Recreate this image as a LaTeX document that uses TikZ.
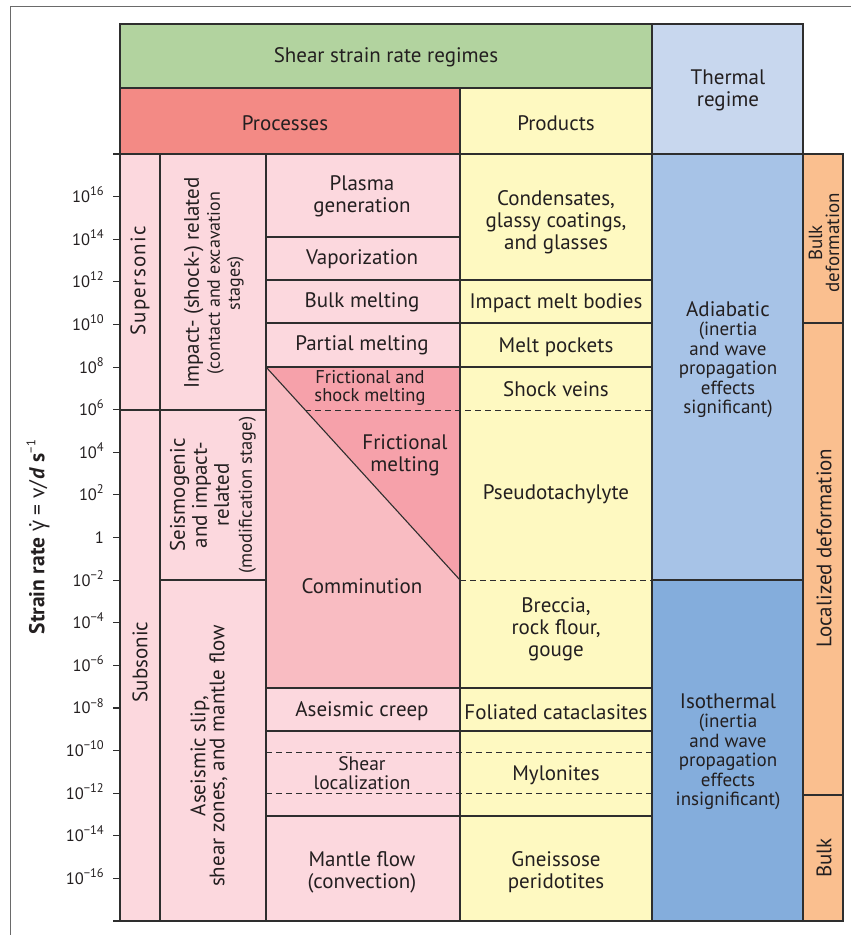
\documentclass[tikz,border=0pt]{standalone}
\usepackage{fontspec}
\setmainfont{PT Sans}
\newfontfamily\greekfont{Open Sans}
\definecolor{ink}{HTML}{231F20}
\definecolor{gridc}{HTML}{2E2E2E}
\definecolor{framec}{HTML}{6A6A6A}
\definecolor{hgreen}{HTML}{B2D39F}
\definecolor{hred}{HTML}{F38A85}
\definecolor{pyellow}{HTML}{FEF9C1}
\definecolor{thead}{HTML}{C8D7EE}
\definecolor{pinkL}{HTML}{FCD8DE}
\definecolor{pinkM}{HTML}{F9BCC2}
\definecolor{pinkD}{HTML}{F6A1AA}
\definecolor{blueA}{HTML}{A7C3E7}
\definecolor{blueI}{HTML}{84ADDC}
\definecolor{orangeR}{HTML}{FABF8F}
\newcommand\sups[1]{\raisebox{0.42em}{\fontsize{12.5}{12.5}\selectfont #1}}
\newcommand\gdot{\setbox0=\hbox{\greekfont γ}\hbox to \wd0{\copy0\hskip-\wd0\hss\raisebox{0.6em}{\kern0.15em .}\hss}}
\begin{document}
\begin{tikzpicture}[x=1pt,y=-1pt,
  gridline/.style={draw=gridc, line width=1.1pt},
  dashline/.style={draw=gridc, line width=1pt, dash pattern=on 6pt off 4pt},
  txt/.style={text=ink, align=center, inner sep=0pt, font=\fontsize{21}{22}\selectfont},
  smtxt/.style={text=ink, align=center, inner sep=0pt, font=\fontsize{19}{19.5}\selectfont},
  ticklab/.style={text=ink, inner sep=0pt, anchor=base east, font=\fontsize{16.5}{16.5}\selectfont}]
\useasboundingbox (0,0) rectangle (851,935);
% outer frame
\draw[framec, line width=1pt] (10,935) -- (10,6.5) -- (851,6.5);
% fills
\fill[hgreen] (120,24) rectangle (652,88);
\fill[hred] (120,88) rectangle (460,154);
\fill[pyellow] (460,88) rectangle (652,154);
\fill[thead] (652,24) rectangle (803,154);
\fill[pinkL] (120,154) rectangle (460,921);
\fill[pinkM] (266,367) rectangle (460,688);
\fill[pinkD] (266,367) -- (460,367) -- (460,580) -- cycle;
\fill[pyellow] (460,154) rectangle (652,921);
\fill[blueA] (652,154) rectangle (803,580);
\fill[blueI] (652,580) rectangle (803,921);
\fill[orangeR] (803,154) rectangle (843,921);
% grid lines
\draw[gridline] (120,154) -- (120,24) -- (803,24) -- (803,921);
\draw[gridline] (120,88) -- (652,88);
\draw[gridline] (652,24) -- (652,921);
\draw[gridline] (460,88) -- (460,921);
\draw[gridline] (113,154) -- (843,154) -- (843,921);
\draw[gridline] (120,154) -- (120,921);
\draw[gridline] (160,154) -- (160,921);
\draw[gridline] (266,154) -- (266,921);
\draw[gridline] (120,410) -- (266,410);
\draw[gridline] (160,580) -- (266,580);
\draw[gridline] (266,237) -- (460,237);
\draw[gridline] (266,280) -- (652,280);
\draw[gridline] (266,323) -- (652,323);
\draw[gridline] (266,367) -- (652,367);
\draw[gridline] (266,688) -- (652,688);
\draw[gridline] (266,731) -- (652,731);
\draw[gridline] (266,816) -- (652,816);
\draw[gridline] (266,367) -- (460,580);
\draw[gridline] (652,580) -- (803,580);
\draw[gridline] (803,323) -- (843,323);
\draw[gridline] (803,795) -- (843,795);
\draw[dashline] (305,410) -- (652,410);
\draw[dashline] (460,580) -- (652,580);
\draw[dashline] (266,752) -- (652,752);
\draw[dashline] (266,793) -- (652,793);
\draw[draw=gridc, line width=2.2pt] (113,921) -- (844,921);
% ticks and labels
\foreach \lab [count=\k] in {{10\sups{16}},{10\sups{14}},{10\sups{12}},{10\sups{10}},{10\sups{8}},{10\sups{6}},{10\sups{4}},{10\sups{2}},{1},{10\sups{−2}},{10\sups{−4}},{10\sups{−6}},{10\sups{−8}},{10\sups{−10}},{10\sups{−12}},{10\sups{−14}},{10\sups{−16}}}{
  \draw[gridline] (113,{154+42.611*\k}) -- (120,{154+42.611*\k});
  \node[ticklab] (tk\k) at (104,{154+42.611*\k+6}) {\lab};
}
\node[rotate=90, text=ink, inner sep=0pt, font=\fontsize{21.5}{22}\selectfont] (axis) at (38,537)
  {\textbf{Strain rate} \gdot\ = v/\textbf{\textit{d}} \textbf{s}\sups{−1}};
% headers
\node[txt] (hshear) at (386,57) {Shear strain rate regimes};
\node[txt] (hproc) at (285,123) {Processes};
\node[txt] (hprod) at (556,123) {Products};
\node[txt] (htherm) at (728,90) {Thermal\\regime};
% left columns
\node[txt, rotate=90] (super) at (140,281) {\addfontfeature{LetterSpace=6}Supersonic};
\node[txt, rotate=90] (sub) at (140,662) {Subsonic};
\node[txt, rotate=90] (impact) at (214,283) {Impact- (shock-) related\\[-1pt]{\fontsize{18}{19}\selectfont (contact and excavation}\\[-2pt]{\fontsize{18}{19}\selectfont stages)}};
\node[txt, rotate=90] (seismo) at (213,495) {Seismogenic\\and impact-\\related\\[1pt]{\fontsize{18.5}{19}\selectfont (modification stage)}};
\node[txt, rotate=90] (aseis) at (209,756) {Aseismic slip,\\[-3pt]shear zones, and mantle flow};
% processes
\node[txt] (plasma) at (362,196) {Plasma\\generation};
\node[txt] (vapor) at (362,259) {Vaporization};
\node[txt] (bulkm) at (362,302) {Bulk melting};
\node[txt] (partm) at (362,345) {Partial melting};
\node[smtxt, font=\fontsize{18.5}{18}\selectfont] (fsm) at (370,388) {Frictional and\\shock melting};
\node[txt] (fm) at (405,455) {Frictional\\melting};
\node[txt] (comm) at (362,586) {Comminution};
\node[txt] (acreep) at (362,711) {Aseismic creep};
\node[txt, font=\fontsize{19.5}{18.5}\selectfont] (shloc) at (362,773) {Shear\\localization};
\node[txt] (mantle) at (362,872) {Mantle flow\\(convection)};
% products
\node[txt] (conden) at (556,222) {Condensates,\\glassy coatings,\\and glasses};
\node[txt] (imb) at (556,303) {Impact melt bodies};
\node[txt] (mpock) at (556,347) {Melt pockets};
\node[txt] (shveins) at (556,389) {Shock veins};
\node[txt] (pseudo) at (556,494) {Pseudotachylyte};
\node[txt] (breccia) at (556,629) {Breccia,\\rock flour,\\gouge};
\node[txt] (folcat) at (556,712) {Foliated cataclasites};
\node[txt] (mylon) at (556,775) {Mylonites};
\node[txt] (gneiss) at (556,872) {Gneissose\\peridotites};
% thermal regime
\node[txt] (adiab) at (728,309) {Adiabatic};
\node[smtxt, anchor=north] (adiabsub) at (728,322) {(inertia\\and wave\\propagation\\effects\\significant)};
\node[txt] (isoth) at (728,701) {Isothermal};
\node[smtxt, anchor=north] (isothsub) at (728,714) {(inertia\\and wave\\propagation\\effects\\insignificant)};
% deformation column
\node[smtxt, font=\fontsize{19}{17}\selectfont, rotate=90] (bulkdef) at (824,243) {Bulk\\deformation};
\node[txt, rotate=90] (locdef) at (824,548) {Localized deformation};
\node[txt, rotate=90] (bulk) at (824,858) {Bulk};
\end{tikzpicture}
\end{document}
